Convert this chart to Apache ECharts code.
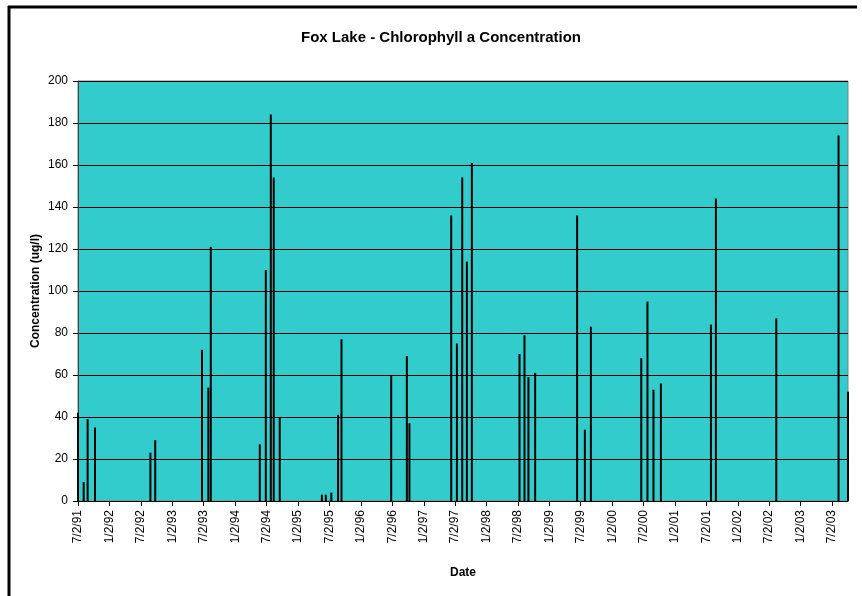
<!DOCTYPE html>
<html>
<head>
<meta charset="utf-8">
<script src="https://cdn.jsdelivr.net/npm/echarts@6/dist/echarts.min.js"></script>
<style>
  html, body { margin: 0; padding: 0; background: #ffffff; }
  #chart { width: 862px; height: 596px; }
</style>
</head>
<body>
<div id="chart"></div>
<script>
// Fox Lake chlorophyll a samples (ug/l)
const sampleDates = [
  '1991-07-02', '1991-08-04', '1991-08-27', '1991-10-09',
  '1992-08-26', '1992-09-23',
  '1993-06-22', '1993-07-29', '1993-08-12',
  '1994-05-24', '1994-06-28', '1994-07-27', '1994-08-13', '1994-09-17',
  '1995-05-20', '1995-06-12', '1995-07-14', '1995-08-22', '1995-09-11',
  '1996-06-26', '1996-09-25', '1996-10-10',
  '1997-06-10', '1997-07-13', '1997-08-13', '1997-09-09', '1997-10-08',
  '1998-07-12', '1998-08-10', '1998-09-02', '1998-10-11',
  '1999-06-12', '1999-07-27', '1999-08-31',
  '2000-06-19', '2000-07-25', '2000-08-29', '2000-10-11',
  '2001-07-29', '2001-08-27',
  '2002-08-13',
  '2003-08-10', '2003-10-04'
];
const chlorophyll = [
  42, 9, 39, 35,
  23, 29,
  72, 54, 121,
  27, 110, 184, 154, 40,
  3, 3, 4, 41, 77,
  60, 69, 37,
  136, 75, 154, 114, 161,
  70, 79, 59, 61,
  136, 34, 83,
  68, 95, 53, 56,
  84, 144,
  87,
  174, 52
];
// Half-yearly tick dates along the date axis
const tickDates = [
  '1991-07-02', '1992-01-02', '1992-07-02', '1993-01-02', '1993-07-02',
  '1994-01-02', '1994-07-02', '1995-01-02', '1995-07-02', '1996-01-02',
  '1996-07-02', '1997-01-02', '1997-07-02', '1998-01-02', '1998-07-02',
  '1999-01-02', '1999-07-02', '2000-01-02', '2000-07-02', '2001-01-02',
  '2001-07-02', '2002-01-02', '2002-07-02', '2003-01-02', '2003-07-02'
];
const axisStart = '1991-07-02';
const axisEnd = '2003-10-04';

// Dates are placed on a day-number scale (days since 1970-01-01, UTC)
const DAY = 86400000;
function toDay(s) {
  const p = s.split('-').map(Number);
  return Date.UTC(p[0], p[1] - 1, p[2]) / DAY;
}
function fmtDay(v) {
  const d = new Date(Math.round(v) * DAY);
  return (d.getUTCMonth() + 1) + '/' + d.getUTCDate() + '/' + String(d.getUTCFullYear()).slice(2);
}

const FONT = '"Liberation Sans", Arial, sans-serif';
const chart = echarts.init(document.getElementById('chart'), null, { renderer: 'canvas' });
const ticks = tickDates.map(toDay);

chart.setOption({
  animation: false,
  backgroundColor: '#ffffff',
  title: {
    text: 'Fox Lake - Chlorophyll a Concentration',
    left: 436,
    top: 25,
    textAlign: 'center',
    textStyle: { fontFamily: FONT, fontSize: 15, fontWeight: 'bold', color: '#000' }
  },
  graphic: [
    { type: 'line', shape: { x1: 8, y1: 7, x2: 857, y2: 7 }, style: { stroke: '#000', lineWidth: 3 } },
    { type: 'line', shape: { x1: 9, y1: 6, x2: 9, y2: 600 }, style: { stroke: '#000', lineWidth: 3 } }
  ],
  grid: {
    left: 78, top: 81, width: 770, height: 420,
    show: true, backgroundColor: '#33CCCC', borderColor: '#808080', borderWidth: 1
  },
  xAxis: {
    type: 'value',
    min: toDay(axisStart),
    max: toDay(axisEnd),
    name: 'Date',
    nameLocation: 'middle',
    nameGap: 66,
    nameMoveOverlap: false,
    nameTextStyle: { fontFamily: FONT, fontSize: 12, fontWeight: 'bold', color: '#000' },
    axisLine: { show: true, onZero: false, lineStyle: { color: '#000', width: 1 } },
    axisTick: { show: true, length: 5, customValues: ticks, lineStyle: { color: '#000' } },
    axisLabel: {
      customValues: ticks,
      rotate: 90,
      margin: 9,
      fontFamily: FONT, fontSize: 12, color: '#000',
      formatter: fmtDay
    },
    splitLine: { show: false }
  },
  yAxis: {
    type: 'value',
    min: 0, max: 200, interval: 20,
    name: 'Concentration (ug/l)',
    nameLocation: 'middle',
    nameGap: 36,
    nameMoveOverlap: false,
    nameTextStyle: { fontFamily: FONT, fontSize: 12, fontWeight: 'bold', color: '#000' },
    axisLine: { show: true, lineStyle: { color: '#404040', width: 1 } },
    axisTick: { show: true, length: 5, lineStyle: { color: '#000' } },
    axisLabel: { margin: 10, fontFamily: FONT, fontSize: 12, color: '#000' },
    splitLine: { show: true, lineStyle: { color: '#000', width: 1 } }
  },
  series: [{
    type: 'bar',
    barWidth: 2,
    itemStyle: { color: '#000' },
    data: sampleDates.map((d, i) => [toDay(d), chlorophyll[i]])
  }]
});
</script>
</body>
</html>
